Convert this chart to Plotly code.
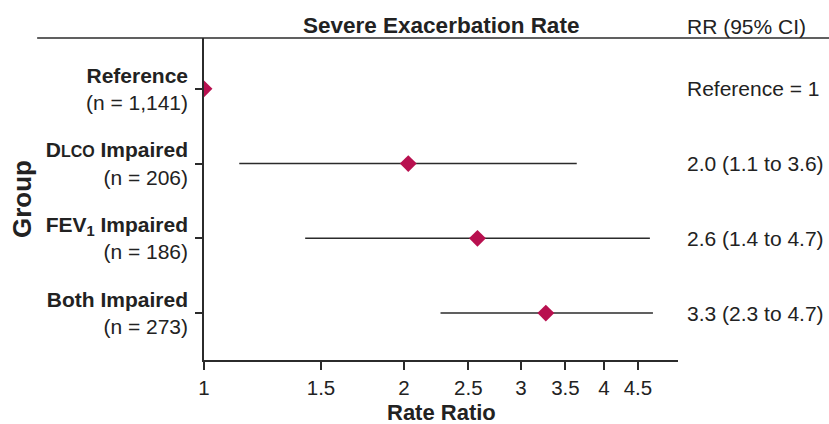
import plotly.graph_objects as go

groups = ["<b>Reference</b><br>(n = 1,141)",
          "<b>D<span style='font-size:16px'>LCO</span> Impaired</b><br>(n = 206)",
          "<b>FEV<sub>1</sub> Impaired</b><br>(n = 186)",
          "<b>Both Impaired</b><br>(n = 273)"]
rr = [1.0, 2.03, 2.58, 3.27]
ci_lo = [1.0, 1.13, 1.42, 2.27]
ci_hi = [1.0, 3.64, 4.69, 4.74]
rr_text = ["Reference = 1", "2.0 (1.1 to 3.6)", "2.6 (1.4 to 4.7)", "3.3 (2.3 to 4.7)"]
x_ticks = [1, 1.5, 2, 2.5, 3, 3.5, 4, 4.5]

ypos = list(range(len(groups)))
FONT = "Liberation Sans, Arial, Helvetica, sans-serif"
LINE = "#2b2b2b"
MARK = "#B8104F"
FS = 21
FB = 22

fig = go.Figure()
fig.add_trace(go.Scatter(
    x=rr, y=ypos, mode="markers",
    marker=dict(symbol="diamond", size=13, color=MARK, line=dict(width=0)),
    error_x=dict(type="data", symmetric=False,
                 array=[h - r for h, r in zip(ci_hi, rr)],
                 arrayminus=[r - l for r, l in zip(rr, ci_lo)],
                 color=LINE, thickness=1.5, width=0),
    showlegend=False, hoverinfo="x+y",
))

for y, t in zip(ypos, rr_text):
    fig.add_annotation(x=1.015, xref="paper", y=y, yref="y", text=t,
                       showarrow=False, xanchor="left", yanchor="middle",
                       font=dict(size=FS, color="#222", family=FONT))

fig.add_annotation(x=0.5, xref="paper", y=1.0, yref="paper", yshift=-2,
                   text="<b>Severe Exacerbation Rate</b>", showarrow=False,
                   xanchor="center", yanchor="bottom",
                   font=dict(size=22.5, color="#222", family=FONT))
fig.add_annotation(x=1.015, xref="paper", y=1.0, yref="paper", yshift=-2,
                   text="RR (95% CI)", showarrow=False,
                   xanchor="left", yanchor="bottom",
                   font=dict(size=FS, color="#222", family=FONT))

# axis titles
fig.add_annotation(x=0.5, xref="paper", y=0, yref="paper", yshift=-38,
                   text="<b>Rate Ratio</b>", showarrow=False,
                   xanchor="center", yanchor="top",
                   font=dict(size=FB, color="#222", family=FONT))
fig.add_annotation(x=0, xref="paper", y=0.5, yref="paper", xshift=-182,
                   text="<b>Group</b>", showarrow=False, textangle=-90,
                   xanchor="center", yanchor="middle",
                   font=dict(size=26, color="#222", family=FONT))

fig.add_shape(type="line", xref="paper", yref="paper",
              x0=-0.352, x1=1.32, y0=1, y1=1,
              line=dict(color=LINE, width=1.5))

fig.update_layout(
    width=829, height=424,
    margin=dict(l=204, r=151, t=38, b=64),
    paper_bgcolor="white", plot_bgcolor="white",
    font=dict(family=FONT, size=FS, color="#222"),
    xaxis=dict(type="log", range=[0, 0.7135], tickvals=x_ticks,
               ticktext=[str(v) for v in x_ticks],
               showgrid=False, zeroline=False, showline=True,
               linecolor=LINE, linewidth=1.5, automargin=False,
               ticks="outside", ticklen=8, tickcolor=LINE, tickwidth=1.5,
               ticklabelstandoff=1, tickfont=dict(size=20.5)),
    yaxis=dict(range=[3.627, -0.68], tickvals=ypos, ticktext=groups,
               showgrid=False, zeroline=False, showline=True,
               linecolor=LINE, linewidth=1.5, automargin=False,
               ticks="outside", ticklen=7, tickcolor=LINE, tickwidth=1.5,
               ticklabelstandoff=3),
)

fig.write_html("out.html", config={"displayModeBar": False})
with open("out.html", encoding="utf-8") as f:
    html = f.read()
html = html.replace("<body>", "<body style=\"margin:0;padding:0;\">", 1)
with open("out.html", "w", encoding="utf-8") as f:
    f.write(html)
